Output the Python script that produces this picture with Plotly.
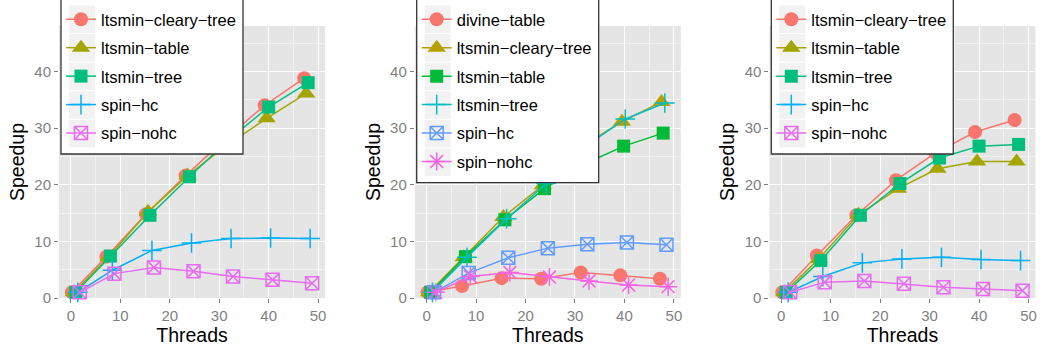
import plotly.graph_objects as go

W, H = 1043, 349

threads = [1, 8, 16, 24, 32, 40, 48]
x_ticks = [0, 10, 20, 30, 40, 50]
y_ticks = [0, 10, 20, 30, 40]

# ---- Panel 1 ----
p1_names = ["ltsmin−cleary−tree", "ltsmin−table", "ltsmin−tree", "spin−hc", "spin−nohc"]
p1_cleary_tree = [1.0, 7.3, 14.8, 21.6, 28.0, 34.0, 38.8]
p1_table = [1.0, 7.2, 15.2, 21.6, 27.0, 31.7, 36.1]
p1_tree = [1.0, 7.4, 14.6, 21.4, 28.0, 33.7, 38.0]
p1_spin_hc = [1.0, 4.9, 8.4, 9.7, 10.5, 10.6, 10.5]
p1_spin_nohc = [1.0, 4.3, 5.4, 4.7, 3.8, 3.2, 2.6]

# ---- Panel 2 ----
p2_names = ["divine−table", "ltsmin−cleary−tree", "ltsmin−table", "ltsmin−tree", "spin−hc", "spin−nohc"]
p2_divine_table = [1.0, 2.1, 3.5, 3.4, 4.5, 4.0, 3.4]
p2_cleary_tree = [1.0, 7.2, 14.3, 19.9, 26.8, 31.1, 34.6]
p2_table = [1.0, 7.3, 13.8, 19.3, 23.6, 26.8, 29.1]
p2_tree = [1.0, 7.2, 14.0, 20.2, 26.8, 31.6, 34.4]
p2_spin_hc = [1.0, 4.4, 7.1, 8.8, 9.5, 9.8, 9.4]
p2_spin_nohc = [1.0, 3.8, 4.5, 3.7, 3.0, 2.3, 2.0]

# ---- Panel 3 ----
p3_names = ["ltsmin−cleary−tree", "ltsmin−table", "ltsmin−tree", "spin−hc", "spin−nohc"]
p3_cleary_tree = [1.0, 7.5, 14.6, 20.8, 25.6, 29.3, 31.4]
p3_table = [1.0, 6.9, 14.7, 19.3, 22.8, 24.1, 24.1]
p3_tree = [1.0, 6.6, 14.6, 20.2, 24.7, 26.8, 27.1]
p3_spin_hc = [1.0, 3.8, 6.2, 6.9, 7.2, 6.8, 6.6]
p3_spin_nohc = [1.0, 2.8, 3.0, 2.5, 1.9, 1.6, 1.3]

# styles
pal5 = ["#F8766D", "#A3A500", "#00BF7D", "#00B0F6", "#E76BF3"]
pal6 = ["#F8766D", "#B79F00", "#00BA38", "#00BFC4", "#619CFF", "#F564E3"]
sym5 = [("circle", 14), ("triangle-up", 16), ("square", 13), ("cross-thin", 14), ("square-x-open", 13)]
sym6 = [("circle", 14), ("triangle-up", 16), ("square", 13), ("cross-thin", 14), ("square-x-open", 13), ("asterisk-open", 15)]

panels = [
    (p1_names, [p1_cleary_tree, p1_table, p1_tree, p1_spin_hc, p1_spin_nohc], pal5, sym5),
    (p2_names, [p2_divine_table, p2_cleary_tree, p2_table, p2_tree, p2_spin_hc, p2_spin_nohc], pal6, sym6),
    (p3_names, [p3_cleary_tree, p3_table, p3_tree, p3_spin_hc, p3_spin_nohc], pal5, sym5),
]

# panel pixel geometry
panel_left = [59.0, 414.8, 769.4]
panel_w = 266.0
panel_top, panel_bot = 26.0, 298.0
box_left = [61.0, 416.7, 771.3]
box_w = 182.0
row_h = 28.6
key_top = 5.0

FONT = "Liberation Sans, Arial, sans-serif"

fig = go.Figure()
shapes = []
legend_names = ["legend", "legend2", "legend3"]

for pi, (names, series, pal, syms) in enumerate(panels):
    ax = "" if pi == 0 else str(pi + 1)
    for si, (nm, vals) in enumerate(zip(names, series)):
        sym, sz = syms[si]
        col = pal[si]
        fig.add_trace(go.Scatter(
            x=threads, y=vals, name=nm,
            mode="lines+markers",
            xaxis="x" + ax, yaxis="y" + ax,
            line=dict(color=col, width=1.5),
            marker=dict(symbol=sym, size=sz, color=col,
                        line=dict(color=col, width=1.5 if ("open" in sym or "thin" in sym) else 0)),
            cliponaxis=False,
            legend=legend_names[pi],
            legendgroup=f"p{pi}s{si}",
            hoverinfo="skip",
        ))
    # legend box + keys (decoration)
    bl = box_left[pi]
    bottom = key_top + row_h * len(names) + 6
    shapes.append(dict(type="rect", xref="paper", yref="paper", layer="above",
                       x0=bl / W, x1=(bl + box_w) / W, y0=1 - (-3) / H, y1=1 - bottom / H,
                       fillcolor="white", line=dict(color="#333333", width=1.3)))
    for k in range(len(names)):
        shapes.append(dict(type="rect", xref="paper", yref="paper", layer="above",
                           x0=(bl + 7.5) / W, x1=(bl + 34.5) / W,
                           y0=1 - (key_top + row_h * k) / H, y1=1 - (key_top + row_h * (k + 1)) / H,
                           fillcolor="#F2F2F2", line=dict(color="white", width=1)))

layout = dict(
    width=W, height=H,
    margin=dict(l=0, r=0, t=0, b=0, autoexpand=False),
    paper_bgcolor="white",
    plot_bgcolor="#E5E5E5",
    scattermode="group",
    scattergap=1 - 2 / 7,
    shapes=shapes,
    font=dict(family=FONT),
)

for pi in range(3):
    ax = "" if pi == 0 else str(pi + 1)
    x0 = panel_left[pi] / W
    x1 = (panel_left[pi] + panel_w) / W
    layout["xaxis" + ax] = dict(
        domain=[x0, x1], range=[-2.4, 51.4], anchor="y" + ax,
        tickvals=x_ticks, ticks="outside", ticklen=4, tickcolor="#7F7F7F",
        tickfont=dict(size=15, color="#7F7F7F", family=FONT),
        showgrid=True, gridcolor="white", gridwidth=1.4, zeroline=False, showline=False,
        minor=dict(dtick=5, tick0=0, showgrid=True, gridcolor="#F2F2F2", gridwidth=0.8),
        title=dict(text="Threads", font=dict(size=19.5, color="black", family=FONT), standoff=4),
        automargin=False, fixedrange=True,
    )
    layout["yaxis" + ax] = dict(
        domain=[1 - panel_bot / H, 1 - panel_top / H], range=[0, 48], anchor="x" + ax,
        tickvals=y_ticks, ticks="outside", ticklen=4, tickcolor="#7F7F7F",
        tickfont=dict(size=15, color="#7F7F7F", family=FONT),
        showgrid=True, gridcolor="white", gridwidth=1.4, zeroline=False, showline=False,
        minor=dict(dtick=5, tick0=0, showgrid=True, gridcolor="#F2F2F2", gridwidth=0.8),
        title=dict(text="Speedup", font=dict(size=19.5, color="black", family=FONT), standoff=4),
        automargin=False, fixedrange=True,
    )
    key_center = box_left[pi] + 21.0
    layout[legend_names[pi]] = dict(
        x=(key_center - 21) / W, xanchor="left",
        y=1 - 2.0 / H, yanchor="top",
        bgcolor="rgba(0,0,0,0)", borderwidth=0,
        font=dict(size=16.5, color="black", family=FONT),
        traceorder="grouped", tracegroupgap=4,
        itemsizing="trace",
    )

fig.update_layout(**layout)
fig.write_html("out.html", config={"displayModeBar": False},
               post_script="document.body.style.margin='0';document.body.style.overflow='hidden';")
